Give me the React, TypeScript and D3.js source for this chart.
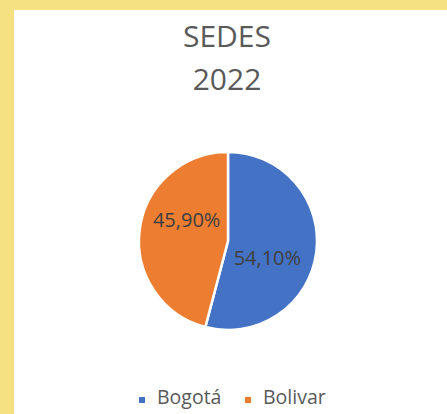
import React from "react";
import * as d3 from "d3";

const categories = ["Bogotá", "Bolivar"];
const values = [54.1, 45.9];
const labels = ["54,10%", "45,90%"];
const colors = ["#4472C4", "#ED7D31"];
const titleLines = ["SEDES", "2022"];

export default function App() {
  const W = 447, H = 414;
  const cx = 228, cy = 241, r = 89;
  const pie = d3.pie<number>().sort(null).value((d) => d)(values);
  const arc = d3.arc<d3.PieArcDatum<number>>().innerRadius(0).outerRadius(r);
  const labelArc = d3.arc<d3.PieArcDatum<number>>().innerRadius(r * 0.48).outerRadius(r * 0.48);
  const labelShift = [[-3, 11], [1, -16]];
  const font = "'Open Sans', sans-serif";
  const legendX = [139, 245];
  return (
    <svg width={W} height={H} style={{ position: "absolute", left: 0, top: 0 }}>
      <rect x={0} y={0} width={W} height={H} fill="#F5E082" />
      <rect x={14} y={10} width={W - 14} height={H - 10} fill="#FFFFFF" />
      {titleLines.map((t, i) => (
        <text key={t} x={227} y={47 + i * 43} textAnchor="middle" fontFamily={font} fontSize={30} fill="#595959">{t}</text>
      ))}
      <g transform={`translate(${cx},${cy})`}>
        {pie.map((p, i) => (
          <path key={i} d={arc(p) || ""} fill={colors[i]} stroke="#FFFFFF" strokeWidth={2.5} strokeLinejoin="round" />
        ))}
        {pie.map((p, i) => {
          const [x, y] = labelArc.centroid(p);
          return (
            <text key={"l" + i} x={x + labelShift[i][0]} y={y + labelShift[i][1]} textAnchor="middle" dominantBaseline="central" fontFamily={font} fontSize={20} fill="#404040">{labels[i]}</text>
          );
        })}
      </g>
      {categories.map((c, i) => (
        <g key={c}>
          <rect x={legendX[i]} y={397} width={6} height={6} fill={colors[i]} />
          <text x={legendX[i] + 18} y={404} fontFamily={font} fontSize={19.5} fill="#595959">{c}</text>
        </g>
      ))}
    </svg>
  );
}
